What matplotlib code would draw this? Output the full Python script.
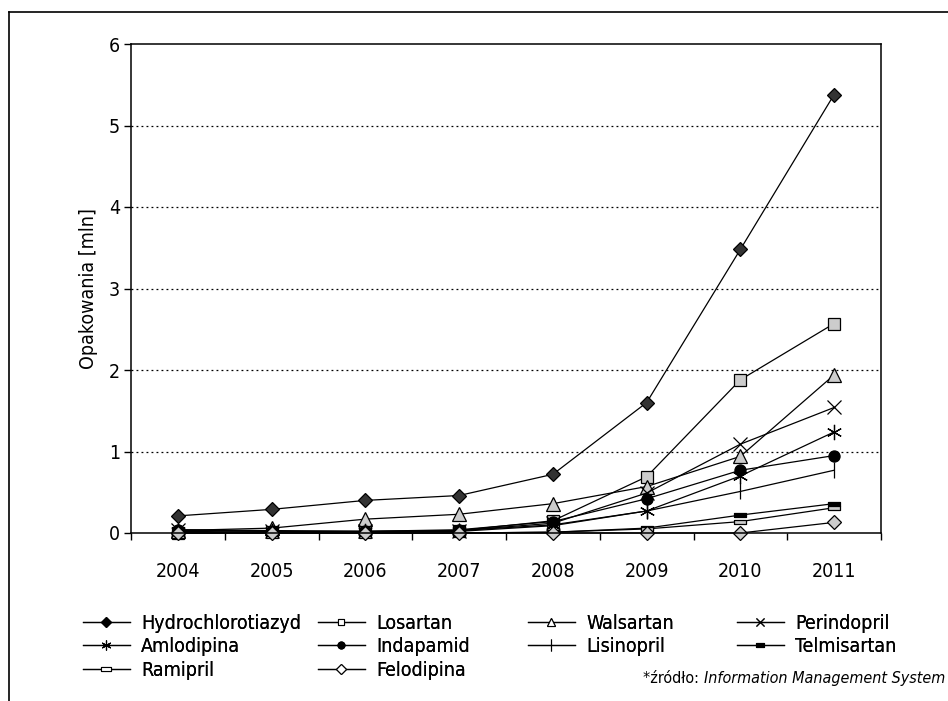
import matplotlib
matplotlib.use("Agg")
import matplotlib.pyplot as plt
from matplotlib import font_manager
from matplotlib.lines import Line2D
import numpy as np

# pick a narrow sans face if one is available
_fonts = {(f.name, f.stretch) for f in font_manager.fontManager.ttflist}
_names = {n for n, _ in _fonts}
if 'Liberation Sans Narrow' in _names:
    plt.rcParams['font.family'] = ['Liberation Sans Narrow', 'DejaVu Sans']
elif ('DejaVu Sans', 'condensed') in _fonts:
    plt.rcParams['font.family'] = ['DejaVu Sans']
    plt.rcParams['font.stretch'] = 'condensed'
else:
    plt.rcParams['font.family'] = ['Liberation Sans', 'DejaVu Sans']
FS = 14

years = ['2004', '2005', '2006', '2007', '2008', '2009', '2010', '2011']

hydrochlorotiazyd = [0.21, 0.29, 0.40, 0.46, 0.72, 1.60, 3.48, 5.38]
losartan = [0.00, 0.01, 0.01, 0.03, 0.15, 0.69, 1.88, 2.57]
walsartan = [0.03, 0.06, 0.17, 0.23, 0.36, 0.57, 0.94, 1.94]
perindopril = [0.04, 0.03, 0.02, 0.03, 0.12, 0.49, 1.09, 1.54]
amlodipina = [0.03, 0.02, 0.02, 0.03, 0.10, 0.27, 0.70, 1.24]
indapamid = [0.04, 0.02, 0.02, 0.04, 0.14, 0.42, 0.77, 0.95]
lisinopril = [0.02, 0.01, 0.01, 0.02, 0.09, 0.27, 0.51, 0.77]
telmisartan = [0.00, 0.00, 0.00, 0.00, 0.01, 0.06, 0.22, 0.36]
ramipril = [0.00, 0.00, 0.00, 0.00, 0.01, 0.05, 0.14, 0.31]
felodipina = [0.00, 0.00, 0.00, 0.00, 0.00, 0.00, 0.00, 0.13]

# flat bar marker used for Telmisartan / Ramipril
bar = [(-1, -0.38), (1, -0.38), (1, 0.38), (-1, 0.38), (-1, -0.38)]

# name, values, marker, plot fill, legend fill, plot size, legend size
series = [
    ('Hydrochlorotiazyd', hydrochlorotiazyd, 'D', '#333333', 'black', 7, 5),
    ('Losartan', losartan, 's', '#cccccc', 'white', 8, 5),
    ('Walsartan', walsartan, '^', '#cccccc', 'white', 10, 6),
    ('Perindopril', perindopril, 'x', 'black', 'black', 10, 6),
    ('Amlodipina', amlodipina, (6, 2, 0), 'black', 'black', 11, 7),
    ('Indapamid', indapamid, 'o', 'black', 'black', 8, 5),
    ('Lisinopril', lisinopril, '|', 'black', 'black', 11, 8),
    ('Telmisartan', telmisartan, bar, 'black', 'black', 8, 6),
    ('Ramipril', ramipril, bar, '#cccccc', 'white', 8, 7),
    ('Felodipina', felodipina, 'D', '#cccccc', 'white', 7, 5),
]

fig = plt.figure(figsize=(9.48, 7.01), dpi=100)
ax = fig.add_axes([131 / 948, 1 - 533 / 701, 750 / 948, 489 / 701])

x = np.arange(len(years))
handles = {}
for name, vals, mk, fc, lfc, ms, lms in series:
    ax.plot(x, vals, color='black', lw=0.9, marker=mk, ms=ms,
            mfc=fc, mec='black', mew=0.9, clip_on=False)
    handles[name] = Line2D([], [], color='black', lw=0.9, marker=mk, ms=lms,
                           mfc=lfc, mec='black', mew=0.8)

ax.set_xlim(-0.5, len(years) - 0.5)
ax.set_ylim(0, 6)
ax.set_yticks(range(0, 7))
ax.set_xticks(x)
ax.set_xticklabels(years)
ax.set_xticks(np.arange(-0.5, len(years)), minor=True)
ax.tick_params(axis='x', which='major', length=0, pad=21, labelsize=FS)
ax.tick_params(axis='x', which='minor', length=5, width=1, direction='out')
ax.tick_params(axis='y', length=5, width=1, direction='out', pad=3,
               labelsize=FS)
for s in ax.spines.values():
    s.set_linewidth(1.1)
for v in range(1, 6):
    ax.axhline(v, color='black', lw=0.9, ls=(0, (1.5, 2.5)), zorder=0)
ax.set_ylabel('Opakowania [mln]', fontsize=FS, labelpad=8)

# legend: four columns placed by hand
columns = [
    (83, ['Hydrochlorotiazyd', 'Amlodipina', 'Ramipril']),
    (318, ['Losartan', 'Indapamid', 'Felodipina']),
    (528, ['Walsartan', 'Lisinopril']),
    (737, ['Perindopril', 'Telmisartan']),
]
for xpix, names in columns:
    leg = fig.legend([handles[n] for n in names], names,
                     loc='upper left',
                     bbox_to_anchor=(xpix / 948, 1 - 614 / 701),
                     frameon=False, fontsize=FS, handlelength=2.4,
                     handletextpad=0.6, labelspacing=0.22,
                     borderaxespad=0, borderpad=0)
    fig.add_artist(leg)

# source note, italic part right-aligned at the edge
t2 = fig.text(945 / 948, 1 - 683 / 701, 'Information Management System',
              ha='right', va='baseline', fontsize=11.5, style='italic')
fig.canvas.draw()
bb = t2.get_window_extent()
fig.text(bb.x0 / 948, 1 - 683 / 701, '*źródło: ', ha='right',
         va='baseline', fontsize=11.5)

# outer frame: top and left edges only
fig.add_artist(Line2D([9 / 948, 1], [1 - 12 / 701] * 2, color='black',
                      lw=1.2, transform=fig.transFigure))
fig.add_artist(Line2D([9 / 948] * 2, [0, 1 - 12 / 701], color='black',
                      lw=1.2, transform=fig.transFigure))

fig.savefig('out.png', dpi=100)
